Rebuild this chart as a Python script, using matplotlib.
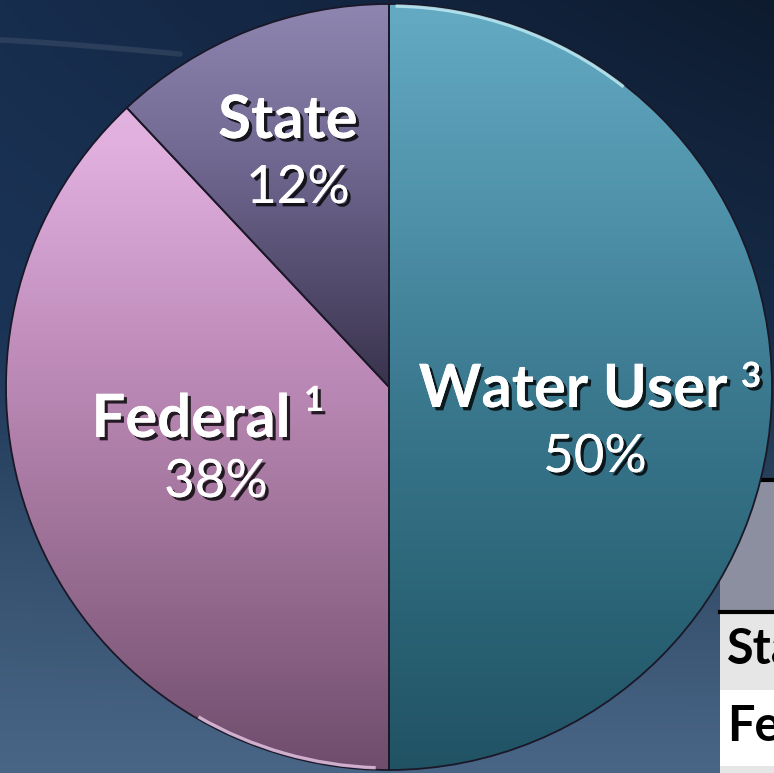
import numpy as np
import matplotlib
matplotlib.use("Agg")
import matplotlib.pyplot as plt
import matplotlib.patheffects as pe
from matplotlib.colors import to_rgb
from matplotlib.patches import Rectangle, Arc

# ---- data ----
categories = ["Water User", "Federal", "State"]
values = [50, 38, 12]
footnotes = ["3", "1", ""]
table_rows = ["State", "Federal"]

W, H = 774, 773
plt.rcParams['font.family'] = ['Lato', 'DejaVu Sans']

fig = plt.figure(figsize=(W / 100, H / 100), dpi=100)
ax = fig.add_axes([0, 0, 1, 1])


def Y(y):
    return H - y


def vgrad(stops, n=H):
    """stops: list of (pixel_y, color) -> array rows top..bottom for y=0..H"""
    ys = np.arange(n)
    sy = [s[0] for s in stops]
    cols = np.array([to_rgb(s[1]) for s in stops])
    out = np.zeros((n, 3))
    for k in range(3):
        out[:, k] = np.interp(ys, sy, cols[:, k])
    return out

# ---- background ----
bgcol = vgrad([(0, "#172d4e"), (330, "#1b3456"), (560, "#36516f"), (773, "#4a6687")])
xs = np.linspace(0, 1, W)
ys = np.linspace(0, 1, H)
fac = 1 - 0.40 * xs[None, :] * (1 - ys[:, None]) ** 1.5
bg = bgcol[:, None, :] * fac[:, :, None]
ax.imshow(bg, extent=[0, W, 0, H], origin="upper", zorder=0, interpolation="bilinear")
# faint light streak
sx = np.linspace(0, 180, 50)
ax.plot(sx, Y(40 + 14 * (sx / 180) ** 1.2), color="white", alpha=0.09, lw=4, zorder=0.5,
        solid_capstyle="round")

# ---- table behind (partly hidden) ----
ax.add_patch(Rectangle((720, Y(612)), 60, 132, facecolor="#8b8fa0", edgecolor="none", zorder=1))
ax.plot([720, W], [Y(480), Y(480)], color="black", lw=3, zorder=1.1)
ax.add_patch(Rectangle((720, Y(690)), 60, 78, facecolor="#e6e6e6", edgecolor="none", zorder=1))
ax.add_patch(Rectangle((720, Y(766)), 60, 76, facecolor="#ffffff", edgecolor="none", zorder=1))
ax.add_patch(Rectangle((720, Y(775)), 60, 9, facecolor="#e6e6e6", edgecolor="none", zorder=1))
ax.plot([720, W], [Y(612), Y(612)], color="black", lw=3, zorder=1.1)
for i, r in enumerate(table_rows):
    ax.text(727, Y(664 + 77 * i), r, fontsize=35, fontweight="bold", color="black",
            ha="left", va="baseline", zorder=1.2, clip_on=True)

# ---- pie ----
cx, cy, R = 389, 387, 383
wedges, _ = ax.pie(values, startangle=90, counterclock=False, center=(cx, Y(cy)), radius=R,
                   wedgeprops=dict(edgecolor="#1a1828", linewidth=1.3))

grads = [
    vgrad([(0, "#64abc3"), (200, "#5093ab"), (400, "#3a788e"), (600, "#2b6477"), (773, "#205263")]),
    vgrad([(0, "#e9bbe8"), (150, "#e0afdd"), (350, "#c08dbb"), (550, "#9c7096"), (773, "#6e4c6b")]),
    vgrad([(0, "#8f87b1"), (150, "#726a93"), (300, "#4f4767"), (390, "#38324c"), (773, "#38324c")]),
]
for w, g in zip(wedges, grads):
    w.set_facecolor("none")
    w.set_zorder(3)
    img = np.repeat(g[:, None, :], 2, axis=1)
    im = ax.imshow(img, extent=[0, W, 0, H], origin="upper", zorder=2,
                   interpolation="bilinear")
    im.set_clip_path(w)

# rim highlights
ax.add_patch(Arc((cx, Y(cy)), 2 * R - 4, 2 * R - 4, theta1=52, theta2=89,
                 color="#c8f2fa", lw=2.4, alpha=0.75, zorder=3.5))
ax.add_patch(Arc((cx, Y(cy)), 2 * R - 4, 2 * R - 4, theta1=240, theta2=268,
                 color="#f2d0f0", lw=2.4, alpha=0.75, zorder=3.5))

# ---- labels ----
shadow = [pe.withSimplePatchShadow(offset=(2.4, -2.4), shadow_rgbFace="black", alpha=0.8),
          pe.Normal()]
name_pos = [(573, 407), (191, 437), (288, 138)]
sup_pos = [(741, 387), (304, 411), None]
pct_pos = [(595, 472), (216, 497), (298, 203)]
for cat, v, fn, npos, spos, ppos in zip(categories, values, footnotes, name_pos, sup_pos, pct_pos):
    ax.text(npos[0], Y(npos[1]), cat, fontsize=43, fontweight="bold", color="white",
            ha="center", va="baseline", zorder=5, path_effects=shadow)
    if fn:
        ax.text(spos[0], Y(spos[1]), fn, fontsize=25, fontweight="bold", color="white",
                ha="left", va="baseline", zorder=5, path_effects=shadow)
    ax.text(ppos[0], Y(ppos[1]), f"{v}%", fontsize=38, color="white",
            ha="center", va="baseline", zorder=5, path_effects=shadow)

ax.set_xlim(0, W)
ax.set_ylim(0, H)
ax.set_aspect("auto")
ax.axis("off")
fig.savefig("out.png", dpi=100)
